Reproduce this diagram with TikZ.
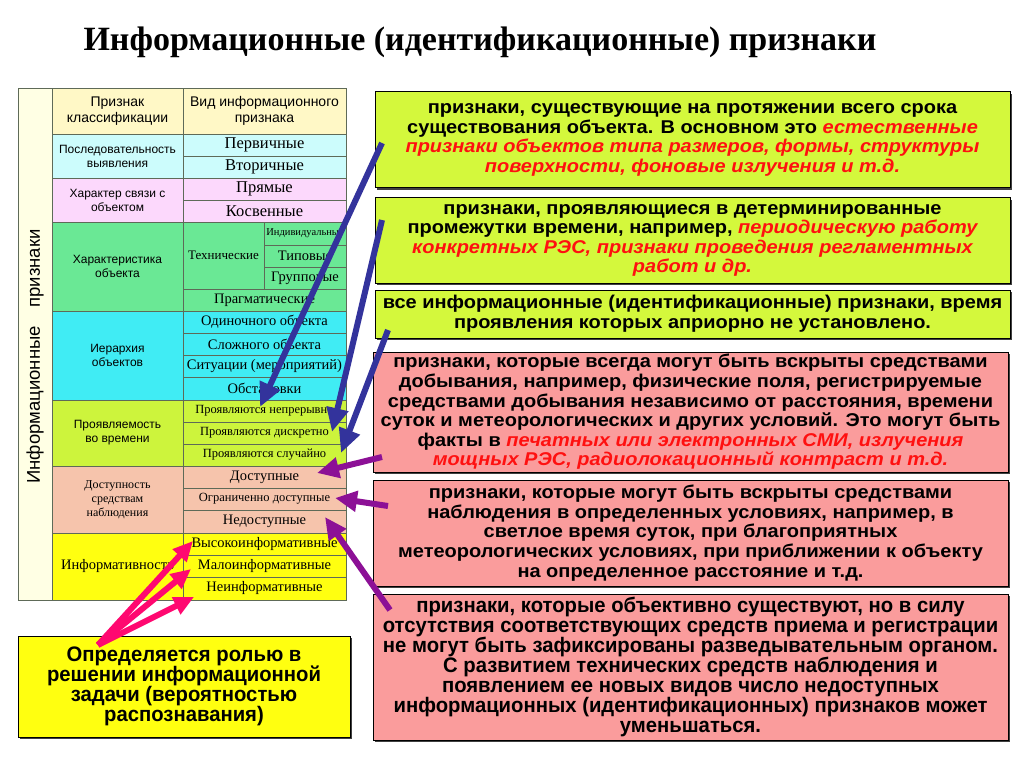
\documentclass[tikz,border=0pt]{standalone}
\usepackage{fontspec}
\setmainfont{Liberation Serif}
\setsansfont{Liberation Sans}
\newfontfamily\arialf{Liberation Sans}
\newfontfamily\widef[FakeStretch=1.08]{Liberation Sans}
\newfontfamily\narrowf[FakeStretch=0.965]{Liberation Sans}
\usetikzlibrary{arrows.meta,shadows}
\definecolor{hdrc}{HTML}{FFF8C6}
\definecolor{ivoryc}{HTML}{FFFFE4}
\definecolor{cyanl}{HTML}{CCFCFC}
\definecolor{pinkl}{HTML}{FCD8FC}
\definecolor{greenc}{HTML}{6AE895}
\definecolor{cyanc}{HTML}{40ECF4}
\definecolor{ygc}{HTML}{CDF43C}
\definecolor{salmc}{HTML}{F6C4AC}
\definecolor{yelc}{HTML}{FFFF10}
\definecolor{boxg}{HTML}{D4F83C}
\definecolor{boxp}{HTML}{FA9C9C}
\definecolor{gridc}{HTML}{5E6A58}
\definecolor{bluea}{HTML}{33339C}
\definecolor{purpa}{HTML}{8C1096}
\definecolor{pinka}{HTML}{FF0870}
\definecolor{redt}{HTML}{FF1010}
\newcommand\rt[1]{\textcolor{redt}{\itshape #1}}
\tikzset{
  cell/.style={draw=gridc, line width=0.8pt, inner sep=0pt, outer sep=0pt, align=center},
  fA/.style={font=\arialf\fontsize{12}{14}\selectfont},
  fH/.style={font=\arialf\fontsize{14}{16}\selectfont},
  fS/.style={font=\fontsize{14.5}{16}\selectfont},
  fSb/.style={font=\fontsize{16.5}{18}\selectfont},
  fSm/.style={font=\fontsize{12.5}{14}\selectfont},
  fSt/.style={font=\fontsize{10.5}{12}\selectfont},
  fSc/.style={font=\fontsize{13}{14.5}\selectfont},
  fSd/.style={font=\fontsize{12}{13.8}\selectfont},
  rbox/.style={draw=black, line width=1pt, inner sep=0pt, outer sep=0pt, align=center,
     drop shadow={shadow xshift=2pt, shadow yshift=-2pt, fill=black, opacity=0.75}},
  boxfont/.style={font=\widef\bfseries\fontsize{18.5}{19.6}\selectfont},
  narrowfont/.style={font=\narrowf\bfseries\fontsize{21}{20}\selectfont},
  barrow/.style={draw=bluea, line width=6pt, -{Triangle[length=24pt,width=21pt]}},
  parrow/.style={draw=purpa, line width=6pt, -{Triangle[length=22pt,width=20pt]}},
  karrow/.style={draw=pinka, line width=6pt, -{Triangle[length=20pt,width=18pt]}},
}
\newcommand\mycell[8]{\node[cell, fill=#6, #7, minimum width={(#4-#2)*1pt}, minimum height={(#5-#3)*1pt}] (#1) at ({(#2+#4)/2},{(#3+#5)/2}) {#8};}
\newcommand\mybox[7]{\node[rbox, fill=#6, #7, minimum width={(#4-#2)*1pt}, minimum height={(#5-#3)*1pt}] (#1) at ({(#2+#4)/2},{(#3+#5)/2})}
\begin{document}
\begin{tikzpicture}[x=1pt,y=-1pt]
\fill[white] (0,0) rectangle (1024,767);
\useasboundingbox (0,0) rectangle (1024,767);
\node[font=\bfseries\fontsize{34}{36}\selectfont] (title) at (480,42) {Информационные (идентификационные) признаки};
% table
\mycell{lcol}{18}{88}{52}{600}{ivoryc}{fA}{}
\node[rotate=90, font=\arialf\fontsize{18.5}{18.5}\selectfont] (ltext) at (35,356.5) {Информационные\quad признаки};
\mycell{h1}{52}{88}{183}{134}{hdrc}{fH}{Признак\\классификации}
\mycell{h2}{183}{88}{346}{134}{hdrc}{fH}{Вид информационного\\признака}
\mycell{k1}{52}{134}{183}{178}{cyanl}{fA}{Последовательность\\выявления}
\mycell{v11}{183}{134}{346}{156}{cyanl}{fSb}{Первичные}
\mycell{v12}{183}{156}{346}{178}{cyanl}{fSb}{Вторичные}
\mycell{k2}{52}{178}{183}{222}{pinkl}{fA}{Характер связи с\\объектом}
\mycell{v21}{183}{178}{346}{200}{pinkl}{fSb}{Прямые}
\mycell{v22}{183}{200}{346}{222}{pinkl}{fSb}{Косвенные}
\mycell{k3}{52}{222}{183}{311}{greenc}{fA}{Характеристика\\объекта}
\mycell{v31}{183}{222}{264}{289}{greenc}{fSc}{Технические}
\mycell{v32}{264}{222}{346}{245}{greenc}{fSt}{Индивидуальные}
\mycell{v33}{264}{245}{346}{267}{greenc}{fS}{Типовые}
\mycell{v34}{264}{267}{346}{289}{greenc}{fS}{Групповые}
\mycell{v35}{183}{289}{346}{311}{greenc}{fS}{Прагматические}
\mycell{k4}{52}{311}{183}{400}{cyanc}{fA}{Иерархия\\объектов}
\mycell{v41}{183}{311}{346}{333}{cyanc}{fS}{Одиночного объекта}
\mycell{v42}{183}{333}{346}{355}{cyanc}{fS}{Сложного объекта}
\mycell{v43}{183}{355}{346}{377}{cyanc}{fS}{Ситуации (мероприятий)}
\mycell{v44}{183}{377}{346}{400}{cyanc}{fS}{Обстановки}
\mycell{k5}{52}{400}{183}{466}{ygc}{fA}{Проявляемость\\во времени}
\mycell{v51}{183}{400}{346}{422}{ygc}{fSm}{Проявляются непрерывно}
\mycell{v52}{183}{422}{346}{444}{ygc}{fSm}{Проявляются дискретно}
\mycell{v53}{183}{444}{346}{466}{ygc}{fSm}{Проявляются случайно}
\mycell{k6}{52}{466}{183}{533}{salmc}{fSd}{Доступность\\средствам\\наблюдения}
\mycell{v61}{183}{466}{346}{488}{salmc}{fS}{Доступные}
\mycell{v62}{183}{488}{346}{510}{salmc}{fSm}{Ограниченно доступные}
\mycell{v63}{183}{510}{346}{533}{salmc}{fS}{Недоступные}
\mycell{k7}{52}{533}{183}{600}{yelc}{fS}{Информативность}
\mycell{v71}{183}{533}{346}{555}{yelc}{fS}{Высокоинформативные}
\mycell{v72}{183}{555}{346}{577}{yelc}{fS}{Малоинформативные}
\mycell{v73}{183}{577}{346}{600}{yelc}{fS}{Неинформативные}
% right boxes
\mybox{b1}{375}{92}{1010}{188}{boxg}{boxfont}{признаки, существующие на протяжении всего срока\\
существования объекта. В основном это \rt{естественные}\\
\rt{признаки объектов типа размеров, формы, структуры}\\
\rt{поверхности, фоновые излучения и т.д.}};
\mybox{b2}{375}{198}{1010}{283}{boxg}{boxfont}{признаки, проявляющиеся в детерминированные\\
промежутки времени, например, \rt{периодическую работу}\\
\rt{конкретных РЭС, признаки проведения регламентных}\\
\rt{работ и др.}};
\mybox{b3}{375}{290}{1010}{338}{boxg}{boxfont}{все информационные (идентификационные) признаки, время\\
проявления которых априорно не установлено.};
\mybox{b4}{373}{352}{1008}{472}{boxp}{boxfont}{признаки, которые всегда могут быть вскрыты средствами\\
добывания, например, физические поля, регистрируемые\\
средствами добывания независимо от расстояния, времени\\
суток и метеорологических и других условий. Это могут быть\\
факты в \rt{печатных или электронных СМИ, излучения}\\
\rt{мощных РЭС, радиолокационный контраст и т.д.}};
\mybox{b5}{373}{480}{1008}{586}{boxp}{boxfont}{признаки, которые могут быть вскрыты средствами\\
наблюдения в определенных условиях, например, в\\
светлое время суток, при благоприятных\\
метеорологических условиях, при приближении к объекту\\
на определенное расстояние и т.д.};
\mybox{b6}{373}{594}{1008}{740}{boxp}{narrowfont}{признаки, которые объективно существуют, но в силу\\
отсутствия соответствующих средств приема и регистрации\\
не могут быть зафиксированы разведывательным органом.\\
С развитием технических средств наблюдения и\\
появлением ее новых видов число недоступных\\
информационных (идентификационных) признаков может\\
уменьшаться.};
\mybox{yb}{18}{636}{350}{737}{yelc}{narrowfont}{Определяется ролью в\\решении информационной\\задачи (вероятностью\\распознавания)};
% arrow end points
\coordinate (a1s) at (382,143); \coordinate (a1e) at (260,407);
\coordinate (a2s) at (382,220); \coordinate (a2e) at (332,432);
\coordinate (a3s) at (388,330); \coordinate (a3e) at (341,453);
\coordinate (p1s) at (382,457); \coordinate (p1e) at (317,473);
\coordinate (p2s) at (388,506); \coordinate (p2e) at (335,498);
\coordinate (p3s) at (390,610); \coordinate (p3e) at (325,517);
\coordinate (ks) at (98,645);
\coordinate (k1e) at (193,541); \coordinate (k2e) at (191,569); \coordinate (k3e) at (194,597);
\draw[barrow] (a1s) -- (a1e);
\draw[barrow] (a2s) -- (a2e);
\draw[barrow] (a3s) -- (a3e);
\draw[parrow] (p1s) -- (p1e);
\draw[parrow] (p2s) -- (p2e);
\draw[parrow] (p3s) -- (p3e);
\draw[karrow] (ks) -- (k1e);
\draw[karrow] (ks) -- (k2e);
\draw[karrow] (ks) -- (k3e);
\end{tikzpicture}
\end{document}
